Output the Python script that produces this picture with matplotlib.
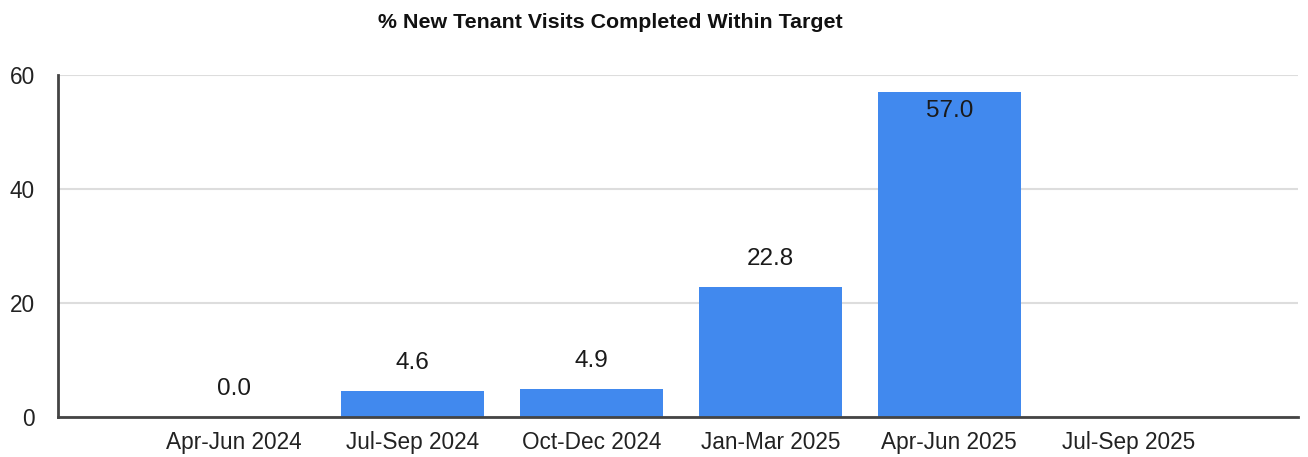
import matplotlib
matplotlib.use("Agg")
import matplotlib.pyplot as plt

categories = ["Apr-Jun 2024", "Jul-Sep 2024", "Oct-Dec 2024", "Jan-Mar 2025", "Apr-Jun 2025", "Jul-Sep 2025"]
values = [0.0, 4.6, 4.9, 22.8, 57.0, None]
labels = ["0.0", "4.6", "4.9", "22.8", "57.0", None]
yticks = [0, 20, 40, 60]

plt.rcParams['font.family'] = ['Liberation Sans', 'DejaVu Sans']

fig = plt.figure(figsize=(13.08, 4.57), dpi=100)
ax = fig.add_axes([0.0443, 0.0875, 0.9481, 0.7485])

x = list(range(len(categories)))
bar_x = [i for i, v in zip(x, values) if v is not None]
bar_v = [v for v in values if v is not None]
bars = ax.bar(bar_x, bar_v, width=0.8, color="#4189EE", zorder=3)

ax.set_xlim(-0.984, 5.95)
ax.set_ylim(0, 60)
ax.set_yticks(yticks)
ax.set_xticks(x)
ax.set_xticklabels(categories)
ax.tick_params(axis='both', length=0, labelsize=16.3, colors="#222222")
ax.tick_params(axis='y', pad=16.5)
ax.tick_params(axis='x', pad=10)

ax.grid(axis='y', color="#dddddd", linewidth=1.5, zorder=0)
for s in ["top", "right"]:
    ax.spines[s].set_visible(False)
for s in ["left", "bottom"]:
    ax.spines[s].set_color("#444444")
    ax.spines[s].set_linewidth(2)
    ax.spines[s].set_zorder(4)

for xi, v, lab in zip(x, values, labels):
    if v is None:
        continue
    if v > 40:
        ax.annotate(lab, (xi, v), xytext=(0, -19), textcoords="offset pixels",
                    ha="center", va="center", fontsize=17.5, color="#1a1a1a", zorder=5)
    else:
        ax.annotate(lab, (xi, v), xytext=(0, 28), textcoords="offset pixels",
                    ha="center", va="center", fontsize=17.5, color="#1a1a1a", zorder=5)

fig.text(0.4665, 0.950, "% New Tenant Visits Completed Within Target", ha="center", va="center",
         fontsize=15.4, fontweight="bold", color="#111111")

fig.savefig("out.png", dpi=100)
